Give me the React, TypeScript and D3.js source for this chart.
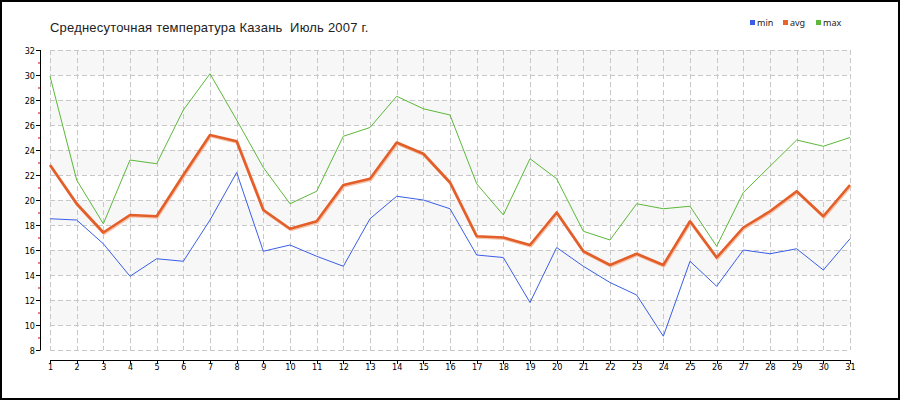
import React from "react";
import * as d3 from "d3";

const days: number[] = Array.from({ length: 31 }, (_, i) => i + 1);
const minTemps = [18.5, 18.4, 16.5, 13.9, 15.3, 15.1, 18.4, 22.2, 15.9, 16.4, 15.5, 14.7, 18.5, 20.3, 20.0, 19.3, 15.6, 15.4, 11.8, 16.2, 14.7, 13.4, 12.4, 9.1, 15.1, 13.1, 16.0, 15.7, 16.1, 14.4, 16.9];
const avgTemps = [22.8, 19.7, 17.4, 18.8, 18.7, 22.0, 25.2, 24.7, 19.2, 17.7, 18.3, 21.2, 21.7, 24.6, 23.7, 21.4, 17.1, 17.0, 16.4, 19.0, 15.9, 14.8, 15.7, 14.8, 18.3, 15.4, 17.8, 19.1, 20.7, 18.7, 21.2];
const maxTemps = [29.9, 21.6, 18.1, 23.2, 22.9, 27.2, 30.1, 26.4, 22.6, 19.7, 20.7, 25.1, 25.8, 28.3, 27.3, 26.8, 21.3, 18.8, 23.3, 21.7, 17.5, 16.8, 19.7, 19.3, 19.5, 16.3, 20.6, 22.7, 24.8, 24.3, 25.0];
const yTicks = [8, 10, 12, 14, 16, 18, 20, 22, 24, 26, 28, 30, 32];
const yMinorTicks = [9, 11, 13, 15, 17, 19, 21, 23, 25, 27, 29, 31];
const bandStarts = [10, 14, 18, 22, 26, 30];
const title = "Среднесуточная температура Казань  Июль 2007 г.";
const legendItems = [
  { name: "min", color: "#3a5ee6" },
  { name: "avg", color: "#e8642e" },
  { name: "max", color: "#5cb83a" },
];

export default function App() {
  const W = 900, H = 400;
  const x = d3.scaleLinear().domain([1, 31]).range([50, 850]);
  const y = d3.scaleLinear().domain([8, 32]).range([350, 50]);
  const line = d3
    .line<number>()
    .x((_, i) => x(days[i]))
    .y((d) => y(d));
  const labelFont = "'DejaVu Sans Condensed', 'DejaVu Sans', sans-serif";

  return (
    <svg
      width={W}
      height={H}
      style={{ position: "absolute", left: 0, top: 0, background: "#fff" }}
    >
      <rect x={0} y={0} width={W} height={H} fill="#fff" />
      {bandStarts.map((b) => (
        <rect
          key={b}
          x={x(1)}
          y={y(b + 2)}
          width={x(31) - x(1)}
          height={y(b) - y(b + 2)}
          fill="#f7f7f7"
        />
      ))}
      {yTicks.map((t) => (
        <line
          key={"gy" + t}
          x1={x(1)}
          x2={x(31)}
          y1={y(t) + 0.5}
          y2={y(t) + 0.5}
          stroke="#c8c8c8"
          strokeDasharray="5,3"
        />
      ))}
      {days.map((d) => (
        <line
          key={"gx" + d}
          x1={Math.round(x(d)) + 0.5}
          x2={Math.round(x(d)) + 0.5}
          y1={y(32)}
          y2={y(8)}
          stroke="#c8c8c8"
          strokeDasharray="5,3"
        />
      ))}
      <line x1={40.5} x2={40.5} y1={y(32)} y2={y(8) + 0.5} stroke="#000" />
      {yTicks.map((t) => (
        <g key={"yt" + t}>
          <line x1={36} x2={40} y1={y(t) + 0.5} y2={y(t) + 0.5} stroke="#000" />
          <text
            x={35}
            y={y(t) + 3.5}
            textAnchor="end"
            fontSize={9}
            fontFamily={labelFont}
            fill="#000"
          >
            {t}
          </text>
        </g>
      ))}
      {yMinorTicks.map((t) => (
        <line key={"ym" + t} x1={38} x2={40} y1={y(t) + 0.5} y2={y(t) + 0.5} stroke="#e00000" />
      ))}
      <line x1={x(1)} x2={x(31) + 1} y1={360.5} y2={360.5} stroke="#000" />
      {days.map((d) => (
        <g key={"xt" + d}>
          <line
            x1={Math.round(x(d)) + 0.5}
            x2={Math.round(x(d)) + 0.5}
            y1={360}
            y2={364}
            stroke="#000"
          />
          <text
            x={x(d) + 0.5}
            y={370}
            textAnchor="middle"
            fontSize={9}
            fontFamily={labelFont}
            fill="#000"
          >
            {d}
          </text>
        </g>
      ))}
      <path d={line(maxTemps) || ""} fill="none" stroke="#5cb83a" strokeWidth={1} />
      <path d={line(minTemps) || ""} fill="none" stroke="#3a5ee6" strokeWidth={1} />
      <path
        d={line(avgTemps) || ""}
        fill="none"
        stroke="#f5c3aa"
        strokeWidth={3}
        strokeLinejoin="round"
        transform="translate(0.7,1)"
      />
      <path
        d={line(avgTemps) || ""}
        fill="none"
        stroke="#e35e28"
        strokeWidth={2.6}
        strokeLinejoin="round"
      />
      <text
        x={50}
        y={32}
        fontSize={13}
        letterSpacing={0.2}
        fontFamily="'Liberation Sans', Arial, sans-serif"
        fill="#222"
        style={{ whiteSpace: "pre" }}
        xmlSpace="preserve"
      >
        {title}
      </text>
      {legendItems.map((it, i) => (
        <g key={it.name} transform={`translate(${750 + i * 33},20)`}>
          <rect x={0} y={0} width={5} height={5} fill={it.color} />
          <text x={7} y={6} fontSize={9} fontFamily="'Noto Sans', 'DejaVu Sans', sans-serif" fill="#222">
            {it.name}
          </text>
        </g>
      ))}
      <rect x={1} y={1} width={W - 2} height={H - 2} fill="none" stroke="#000" strokeWidth={2} />
    </svg>
  );
}
